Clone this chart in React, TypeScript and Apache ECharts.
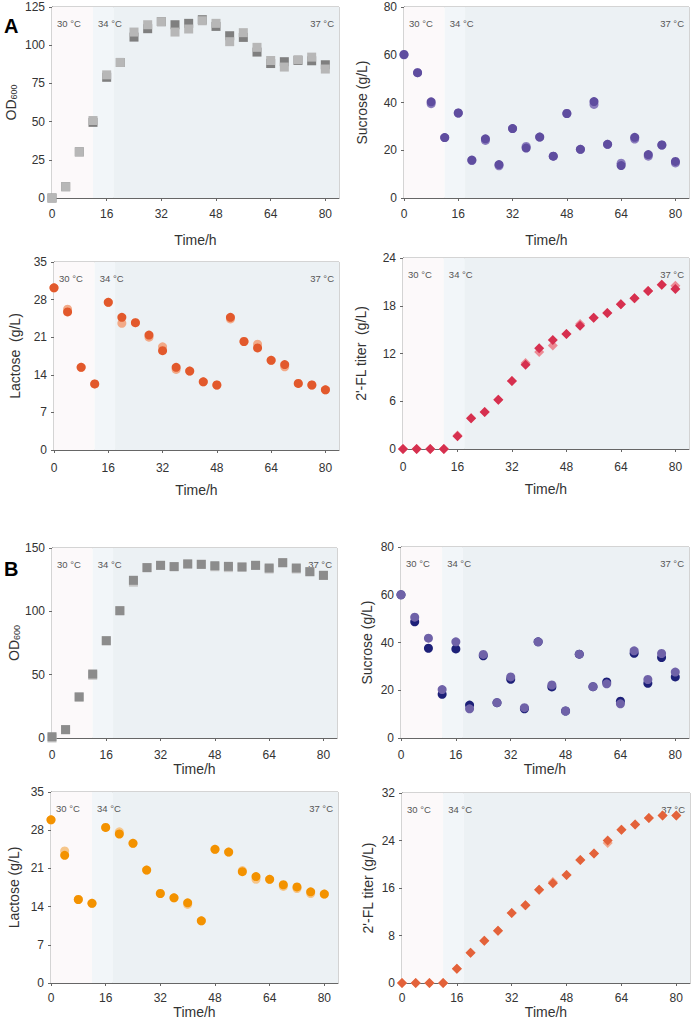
import React, { useEffect, useRef } from "react";
import * as echarts from "echarts";

const hours = [0, 4, 8, 12, 16, 20, 24, 28, 32, 36, 40, 44, 48, 52, 56, 60, 64, 68, 72, 76, 80];

// Panel A
const odA_light = [0, 7.4, 30.2, 50.7, 80.6, 88.7, 108.6, 113.4, 115.4, 108.6, 110.6, 116, 114.3, 102.3, 108.2, 98.6, 90, 85.7, 90.5, 92.2, 84.4];
const odA_dark = [0, 7.4, 30.2, 49.5, 79, 88.7, 105.3, 110.8, 115.4, 113.4, 114.3, 116.7, 112.3, 106.2, 105.1, 95.5, 88, 89.2, 90, 89.8, 87.2];
const sucA_light = [60, 52.5, 39.5, 25.3, 35.6, 15.7, 24.1, 13.5, 29.1, 21.6, 25.5, 17.5, 35.4, 20.4, 39.2, 22.5, 14.6, 24.7, 17.5, 22.2, 14.7];
const sucA_dark = [60.1, 52.5, 40.3, 25.3, 35.6, 15.9, 24.8, 14.0, 29.1, 20.9, 25.5, 17.5, 35.4, 20.4, 40.4, 22.5, 13.6, 25.4, 18.2, 22.2, 15.3];
const lacA_light = [30.2, 26.2, 15.4, 12.3, 27.5, 23.6, 23.7, 21.0, 19.2, 15.0, 14.7, 12.7, 12.1, 24.4, 20.2, 19.7, 16.7, 15.5, 12.4, 12.1, 11.2];
const lacA_dark = [30.2, 25.7, 15.4, 12.3, 27.5, 24.7, 23.7, 21.4, 18.5, 15.4, 14.7, 12.7, 12.1, 24.7, 20.2, 19.0, 16.7, 15.9, 12.4, 12.1, 11.2];
const flA_light = [0, 0, 0, 0, 1.7, 3.85, 4.65, 6.2, 8.55, 10.8, 12.2, 13.0, 14.45, 15.7, 16.5, 17.1, 18.2, 18.95, 19.85, 20.65, 20.5];
const flA_dark = [0, 0, 0, 0, 1.6, 3.85, 4.65, 6.2, 8.55, 10.6, 12.65, 13.7, 14.45, 15.5, 16.5, 17.1, 18.2, 18.95, 19.85, 20.65, 20.1];

// Panel B
const odB_light = [0, 6.6, 32.4, 49.5, 76.8, 100.5, 123, 134.5, 136.3, 135.3, 137.4, 137.1, 135.2, 134.5, 135, 136.3, 133.4, 138.4, 133.4, 131.3, 128.4];
const odB_dark = [1, 6.6, 32.4, 50.5, 76.8, 100.5, 124.5, 134.5, 136.3, 135.3, 137.4, 137.1, 136, 135.5, 135, 136.3, 134.2, 138.4, 134.2, 131.3, 128.4];
const sucB_light = [60, 50.6, 41.8, 20.3, 40.3, 12.2, 35.0, 14.8, 25.6, 12.7, 40.3, 22.2, 11.3, 35.1, 21.5, 22.7, 14.3, 36.5, 24.5, 35.4, 27.6];
const sucB_dark = [60, 48.7, 37.6, 18.3, 37.3, 13.8, 34.4, 14.8, 24.6, 12.2, 40.3, 21.4, 11.3, 35.1, 21.5, 23.5, 15.4, 35.5, 22.9, 33.7, 25.6];
const lacB_light = [29.9, 24.2, 15.3, 14.6, 28.5, 27.7, 25.6, 20.7, 16.4, 15.6, 14.4, 11.4, 24.5, 24.0, 20.6, 19.0, 19.0, 17.7, 17.3, 16.4, 16.3];
const lacB_dark = [29.9, 23.4, 15.3, 14.6, 28.5, 27.3, 25.6, 20.7, 16.4, 15.6, 14.7, 11.4, 24.5, 24.0, 20.4, 19.5, 19.0, 18.0, 17.6, 16.7, 16.3];
const flB_light = [0, 0, 0, 0, 2.4, 5.1, 7.1, 8.8, 11.8, 13.1, 15.7, 17.0, 18.2, 20.7, 21.8, 23.6, 25.8, 26.7, 27.8, 28.2, 28.2];
const flB_dark = [0, 0, 0, 0, 2.4, 5.1, 7.1, 8.8, 11.8, 13.1, 15.7, 16.8, 18.2, 20.7, 21.8, 24.0, 25.8, 26.7, 27.8, 28.2, 28.2];

const xTicks = [0, 16, 32, 48, 64, 80];
const tempLabels = ["30 °C", "34 °C", "37 °C"];
const tempBounds = [0, 12, 18, 84];

const FONT = "'Liberation Sans', Arial, Helvetica, sans-serif";

type Panel = {
  left: number; top: number; width: number; height: number;
  yMax: number; yInt: number; yName: string; yGap: number;
  xGap: number; xMargin: number;
  symbol: string; size: number;
  first: number[]; second: number[]; c1: string; c2: string;
};

const panels: Panel[] = [
  { left: 52, top: 7, width: 287, height: 191, yMax: 125, yInt: 25, yName: "OD{s|600}", yGap: 34, xGap: 35, xMargin: 10, symbol: "rect", size: 9, first: odA_dark, second: odA_light, c1: "#7f7f7f", c2: "#b7b7b7" },
  { left: 404, top: 7, width: 285, height: 191, yMax: 80, yInt: 20, yName: "Sucrose (g/L)", yGap: 35, xGap: 35, xMargin: 10, symbol: "circle", size: 9, first: sucA_light, second: sucA_dark, c1: "#8a7cbd", c2: "#5f4d9f" },
  { left: 54, top: 262, width: 285, height: 188, yMax: 35, yInt: 7, yName: "Lactose  (g/L)", yGap: 32, xGap: 33, xMargin: 12, symbol: "circle", size: 9, first: lacA_light, second: lacA_dark, c1: "#f2aa88", c2: "#e2592c" },
  { left: 403, top: 258, width: 286, height: 191, yMax: 24, yInt: 6, yName: "2'-FL titer  (g/L)", yGap: 35, xGap: 33, xMargin: 12, symbol: "diamond", size: 10, first: flA_light, second: flA_dark, c1: "#ec8b95", c2: "#d6304f" },
  { left: 52, top: 548, width: 285, height: 190, yMax: 150, yInt: 50, yName: "OD{s|600}", yGap: 31, xGap: 23, xMargin: 11, symbol: "rect", size: 9, first: odB_light, second: odB_dark, c1: "#c6c6c6", c2: "#8c8c8c" },
  { left: 401, top: 547, width: 288, height: 191, yMax: 80, yInt: 20, yName: "Sucrose (g/L)", yGap: 27, xGap: 23, xMargin: 11, symbol: "circle", size: 9, first: sucB_dark, second: sucB_light, c1: "#1d2078", c2: "#6f62a8" },
  { left: 51, top: 792, width: 287, height: 191, yMax: 35, yInt: 7, yName: "Lactose (g/L)", yGap: 30, xGap: 22, xMargin: 9, symbol: "circle", size: 9, first: lacB_light, second: lacB_dark, c1: "#f6c68a", c2: "#f39200" },
  { left: 402, top: 793, width: 288, height: 191, yMax: 32, yInt: 8, yName: "2'-FL titer (g/L)", yGap: 27, xGap: 22, xMargin: 9, symbol: "diamond", size: 10, first: flB_light, second: flB_dark, c1: "#f2a68a", c2: "#e3623a" },
];

function buildOption() {
  const grid: any[] = [];
  const xAxis: any[] = [];
  const yAxis: any[] = [];
  const series: any[] = [];
  const areaColors = ["#fcf9fa", "#f2f6f9", "#ecf1f4"];
  panels.forEach((p, i) => {
    grid.push({ left: p.left, top: p.top, width: p.width, height: p.height, show: true, borderColor: "#a8a8a8", borderWidth: 1, backgroundColor: "transparent" });
    xAxis.push({
      type: "value", gridIndex: i, min: 0, max: 84, interval: 16,
      name: "Time/h", nameLocation: "middle", nameGap: p.xGap,
      nameTextStyle: { fontSize: 14, color: "#333", fontFamily: FONT },
      axisLine: { show: true, onZero: false, lineStyle: { color: "#666", width: 1 } },
      axisTick: { show: true, length: 3, lineStyle: { color: "#666" } },
      axisLabel: { fontSize: 12, color: "#333", fontFamily: FONT, margin: p.xMargin, showMaxLabel: false, formatter: (v: number) => (xTicks.indexOf(v) >= 0 ? String(v) : "") },
      splitLine: { show: false },
    });
    yAxis.push({
      type: "value", gridIndex: i, min: 0, max: p.yMax, interval: p.yInt,
      name: p.yName, nameLocation: "middle", nameGap: p.yGap, nameRotate: 90,
      nameTextStyle: { fontSize: 14, color: "#333", fontFamily: FONT, rich: { s: { fontSize: 9, color: "#333", fontFamily: FONT, padding: [6, 0, 0, 0] } } },
      axisLine: { show: true, onZero: false, lineStyle: { color: "#666", width: 1 } },
      axisTick: { show: true, length: 3, lineStyle: { color: "#666" } },
      axisLabel: { fontSize: 12, color: "#333", fontFamily: FONT, margin: 7 },
      splitLine: { show: false },
    });
    const markData = tempLabels.map((t, k) => [
      {
        xAxis: tempBounds[k], yAxis: 0,
        itemStyle: { color: areaColors[k] },
        label: { show: true, formatter: t, position: k === 2 ? "insideTopRight" : "insideTopLeft", distance: 5, padding: [6, 0, 0, 0], fontSize: 9.5, fontWeight: "normal", color: "#555", fontFamily: FONT },
      },
      { xAxis: tempBounds[k + 1], yAxis: p.yMax },
    ]);
    series.push({
      type: "scatter", xAxisIndex: i, yAxisIndex: i, symbol: p.symbol, symbolSize: p.size, z: 3,
      itemStyle: { color: p.c1, opacity: 1 },
      data: hours.map((h, k) => [h, p.first[k]]),
      markArea: { silent: true, z: 1, data: markData },
    });
    series.push({
      type: "scatter", xAxisIndex: i, yAxisIndex: i, symbol: p.symbol, symbolSize: p.size, z: 4,
      itemStyle: { color: p.c2, opacity: 1 },
      data: hours.map((h, k) => [h, p.second[k]]),
    });
  });
  return {
    animation: false,
    backgroundColor: "#ffffff",
    grid, xAxis, yAxis, series,
    graphic: [
      { type: "text", left: 4, top: 16, style: { text: "A", fontSize: 20, fontWeight: "bold", fill: "#000", fontFamily: FONT } },
      { type: "text", left: 4, top: 559, style: { text: "B", fontSize: 20, fontWeight: "bold", fill: "#000", fontFamily: FONT } },
    ],
  };
}

export default function App() {
  const ref = useRef<HTMLDivElement>(null);
  useEffect(() => {
    if (!ref.current) return;
    const chart = echarts.init(ref.current, undefined, { renderer: "svg" });
    chart.setOption(buildOption() as any);
    return () => chart.dispose();
  }, []);
  return <div ref={ref} style={{ position: "absolute", left: 0, top: 0, width: 693, height: 1020, background: "#fff" }} />;
}
